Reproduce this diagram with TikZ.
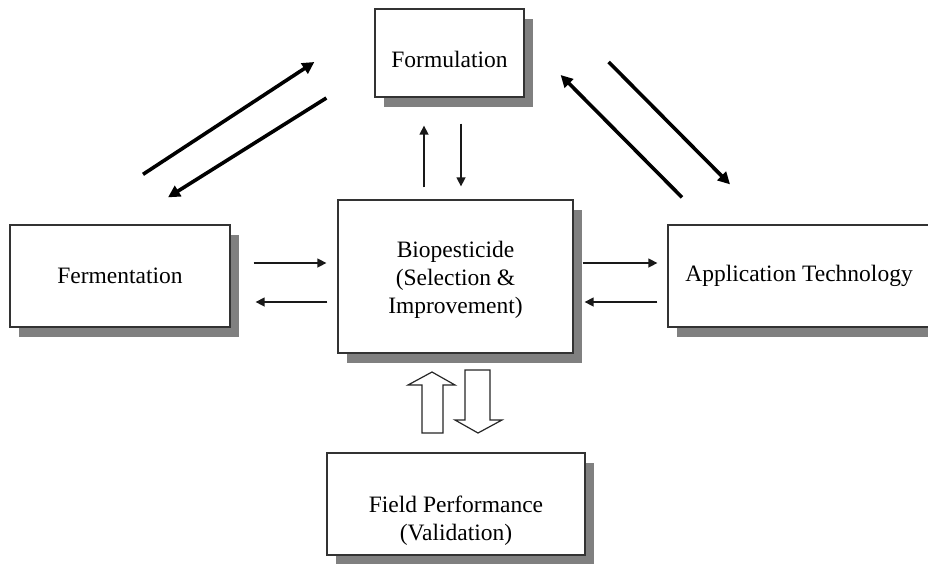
\documentclass[tikz,border=0pt]{standalone}
\usepackage{fontspec}
\setmainfont{Liberation Serif}
\usetikzlibrary{arrows.meta,shadows}

\begin{document}
\begin{tikzpicture}[
  x=1pt, y=-1pt,
  box/.style={draw=black!80, line width=1.3pt, fill=white, align=center,
              font=\fontsize{23.5}{28}\selectfont, inner sep=4pt,
              drop shadow={shadow xshift=9pt, shadow yshift=-10pt,
                           fill=black!50, opacity=1}},
  arr/.style={-{Triangle[length=9pt,width=9pt]}, line width=1.5pt, color=black!90},
  diag/.style={-{Triangle[length=12pt,width=12pt]}, line width=3.6pt, color=black},
  hollow/.style={draw=black!85, line width=1.2pt, fill=white, line join=miter}
]
\useasboundingbox (0,0) rectangle (928,563);

% boxes
\node[box, minimum width=149pt, minimum height=88pt,
      text height=28pt, text depth=0pt] (form) at (449.5,53) {Formulation};
\node[box, minimum width=220pt, minimum height=102pt] (ferm) at (120,276) {Fermentation};
\node[box, minimum width=235pt, minimum height=153pt,
      text height=78pt, text depth=5pt] (bio) at (455.5,276.5)
  {Biopesticide\\(Selection \&\\Improvement)};
\node[box, minimum width=262pt, minimum height=102pt] (app) at (799,276) {Application Technology};
\node[box, minimum width=258pt, minimum height=102pt,
      text height=72pt, text depth=0pt] (field) at (456,504) {Field Performance\\(Validation)};

% fermentation <-> biopesticide
\draw[arr] ([xshift=23pt,yshift=13pt]ferm.east) -- ([xshift=-11pt,yshift=13.5pt]bio.west);
\draw[arr] ([xshift=-10pt,yshift=-25.5pt]bio.west) -- ([xshift=25pt,yshift=-26pt]ferm.east);

% biopesticide <-> application
\draw[arr] ([xshift=9pt,yshift=13.5pt]bio.east) -- ([xshift=-10pt,yshift=13pt]app.west);
\draw[arr] ([xshift=-10pt,yshift=-26pt]app.west) -- ([xshift=11pt,yshift=-25.5pt]bio.east);

% biopesticide <-> formulation
\draw[arr] ([xshift=-31.5pt,yshift=12pt]bio.north) -- ([xshift=-25.5pt,yshift=-28pt]form.south);
\draw[arr] ([xshift=11.5pt,yshift=-26pt]form.south) -- ([xshift=5.5pt,yshift=13pt]bio.north);

% formulation <-> fermentation / application
\draw[diag] ([xshift=23pt,yshift=50pt]ferm.north) -- ([xshift=-60pt,yshift=-9pt]form.west);
\draw[diag] ([xshift=-48pt,yshift=-45pt]form.west) -- ([xshift=48pt,yshift=27pt]ferm.north);
\draw[diag] ([xshift=-117pt,yshift=27pt]app.north) -- ([xshift=36pt,yshift=-22pt]form.east);
\draw[diag] ([xshift=84pt,yshift=-9pt]form.east) -- ([xshift=-69pt,yshift=40pt]app.north);

% hollow arrows to and from the field trials
\draw[hollow] (422,433) -- (443,433) -- (443,385) -- (455,385) -- (432,372)
  -- (408,385) -- (422,385) -- cycle;
\draw[hollow] (465,370) -- (490,370) -- (490,420) -- (502,420) -- (478,433)
  -- (455,420) -- (465,420) -- cycle;
\end{tikzpicture}
\end{document}
